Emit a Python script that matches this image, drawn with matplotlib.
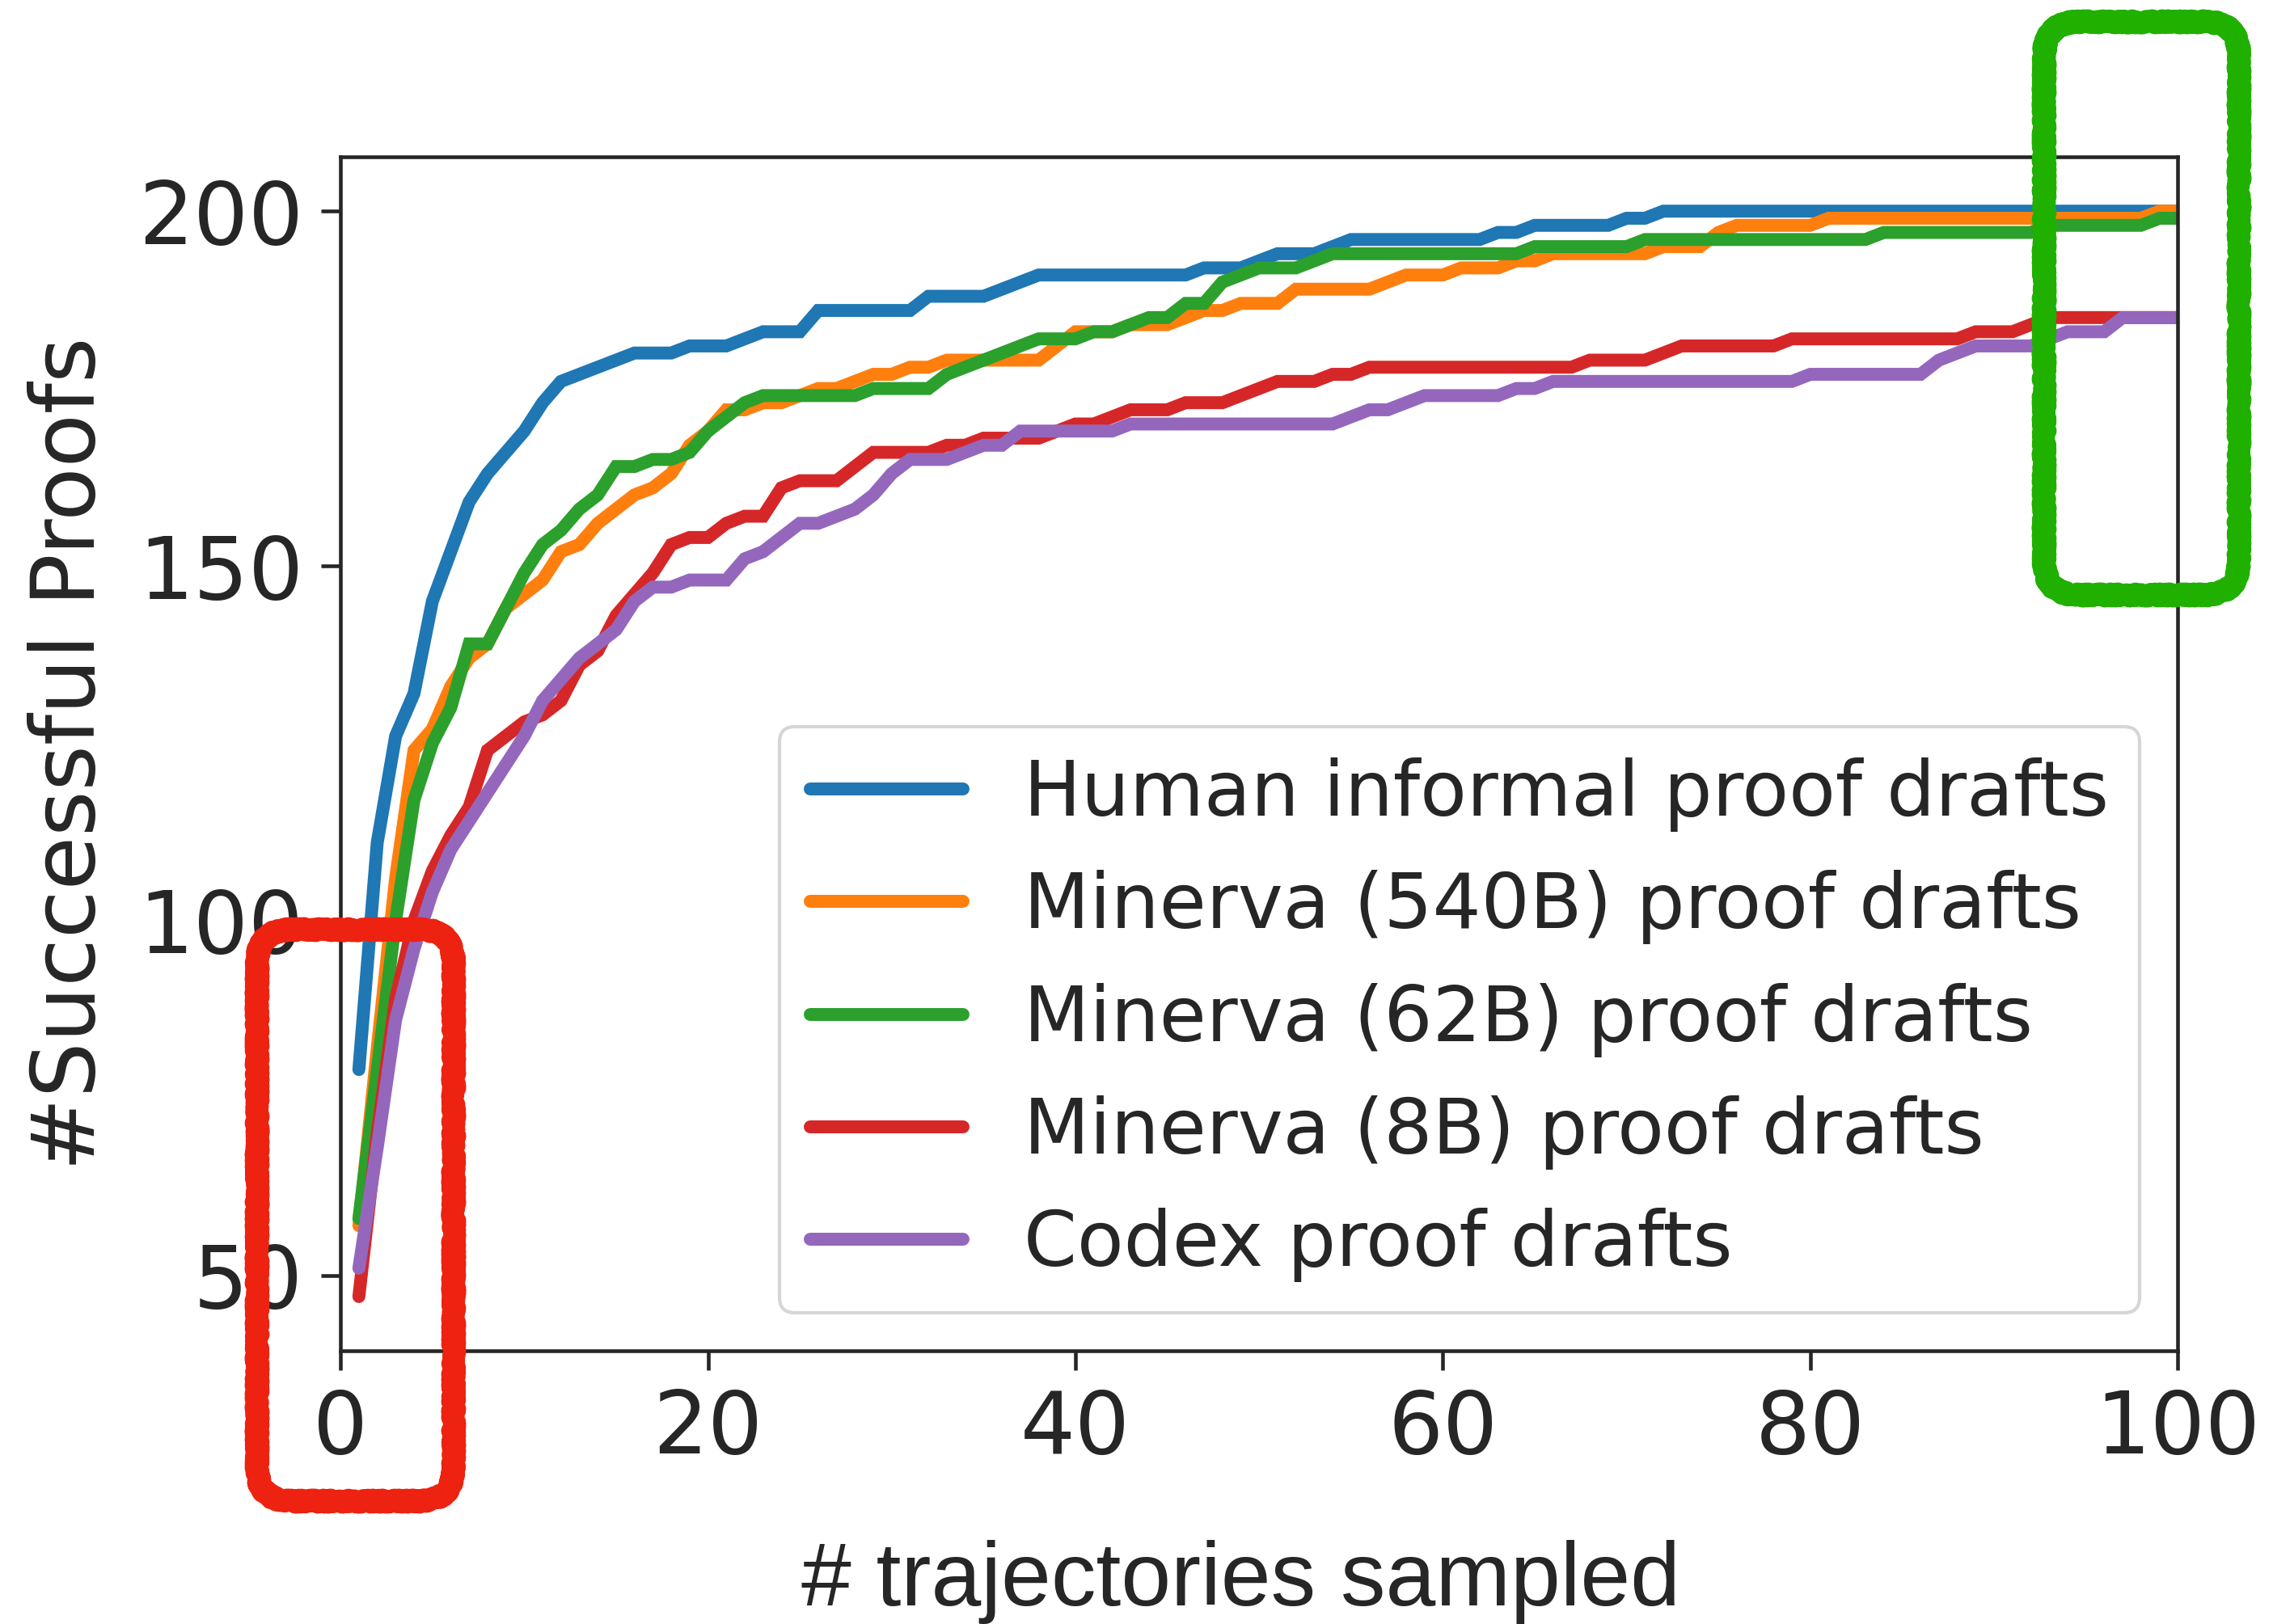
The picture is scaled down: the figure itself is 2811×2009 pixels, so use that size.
import matplotlib
matplotlib.use("Agg")
import matplotlib.pyplot as plt
from matplotlib.patches import FancyBboxPatch

# number of sampled trajectories
trajectories = list(range(1, 101))

human = [79, 111, 126, 132, 145, 152, 159, 163, 166, 169,
         173, 176, 177, 178, 179, 180, 180, 180, 181, 181,
         181, 182, 183, 183, 183, 186, 186, 186, 186, 186,
         186, 188, 188, 188, 188, 189, 190, 191, 191, 191,
         191, 191, 191, 191, 191, 191, 192, 192, 192, 193,
         194, 194, 194, 195, 196, 196, 196, 196, 196, 196,
         196, 196, 197, 197, 198, 198, 198, 198, 198, 199,
         199, 200, 200, 200, 200, 200, 200, 200, 200, 200,
         200, 200, 200, 200, 200, 200, 200, 200, 200, 200,
         200, 200, 200, 200, 200, 200, 200, 200, 200, 200]

minerva_540b = [57, 82, 106, 124, 127, 133, 137, 139, 144, 146,
                148, 152, 153, 156, 158, 160, 161, 163, 167, 169,
                172, 172, 173, 173, 174, 175, 175, 176, 177, 177,
                178, 178, 179, 179, 179, 179, 179, 179, 181, 183,
                183, 183, 184, 184, 184, 185, 186, 186, 187, 187,
                187, 189, 189, 189, 189, 189, 190, 191, 191, 191,
                192, 192, 192, 193, 193, 194, 194, 194, 194, 194,
                194, 195, 195, 195, 197, 198, 198, 198, 198, 198,
                199, 199, 199, 199, 199, 199, 199, 199, 199, 199,
                199, 199, 199, 199, 199, 199, 199, 199, 200, 200]

minerva_62b = [58, 79, 100, 117, 125, 130, 139, 139, 144, 149,
               153, 155, 158, 160, 164, 164, 165, 165, 166, 169,
               171, 173, 174, 174, 174, 174, 174, 174, 175, 175,
               175, 175, 177, 178, 179, 180, 181, 182, 182, 182,
               183, 183, 184, 185, 185, 187, 187, 190, 191, 192,
               192, 192, 193, 194, 194, 194, 194, 194, 194, 194,
               194, 194, 194, 194, 195, 195, 195, 195, 195, 195,
               196, 196, 196, 196, 196, 196, 196, 196, 196, 196,
               196, 196, 196, 197, 197, 197, 197, 197, 197, 197,
               197, 197, 198, 198, 198, 198, 198, 198, 199, 199]

minerva_8b = [47, 70, 89, 100, 107, 112, 116, 124, 126, 128,
              129, 131, 136, 138, 143, 146, 149, 153, 154, 154,
              156, 157, 157, 161, 162, 162, 162, 164, 166, 166,
              166, 166, 167, 167, 168, 168, 168, 168, 169, 170,
              170, 171, 172, 172, 172, 173, 173, 173, 174, 175,
              176, 176, 176, 177, 177, 178, 178, 178, 178, 178,
              178, 178, 178, 178, 178, 178, 178, 179, 179, 179,
              179, 180, 181, 181, 181, 181, 181, 181, 182, 182,
              182, 182, 182, 182, 182, 182, 182, 182, 183, 183,
              183, 184, 185, 185, 185, 185, 185, 185, 185, 185]

codex = [51, 68, 86, 96, 104, 110, 114, 118, 122, 126,
         131, 134, 137, 139, 141, 145, 147, 147, 148, 148,
         148, 151, 152, 154, 156, 156, 157, 158, 160, 163,
         165, 165, 165, 166, 167, 167, 169, 169, 169, 169,
         169, 169, 170, 170, 170, 170, 170, 170, 170, 170,
         170, 170, 170, 170, 171, 172, 172, 173, 174, 174,
         174, 174, 174, 175, 175, 176, 176, 176, 176, 176,
         176, 176, 176, 176, 176, 176, 176, 176, 176, 177,
         177, 177, 177, 177, 177, 177, 179, 180, 181, 181,
         181, 181, 182, 183, 183, 183, 185, 185, 185, 185]

series = [
    ("Human informal proof drafts", human, "#1f77b4"),
    ("Minerva (540B) proof drafts", minerva_540b, "#ff7f0e"),
    ("Minerva (62B) proof drafts", minerva_62b, "#2ca02c"),
    ("Minerva (8B) proof drafts", minerva_8b, "#d62728"),
    ("Codex proof drafts", codex, "#9467bd"),
]

x_ticks = [0, 20, 40, 60, 80, 100]
y_ticks = [50, 100, 150, 200]

ink = "#262626"
plt.rcParams.update({
    "font.family": ["DejaVu Sans"],
    "text.color": ink,
    "axes.labelcolor": ink,
    "xtick.color": ink,
    "ytick.color": ink,
    "axes.edgecolor": ink,
})

fig = plt.figure(figsize=(28.11, 20.09), dpi=100)
ax = fig.add_axes([0.1498, 0.1682, 0.8083, 0.7352])

for label, values, color in series:
    ax.plot(trajectories, values, color=color, lw=11.5,
            solid_capstyle="round", solid_joinstyle="miter", label=label)

ax.set_xlim(0, 100)
ax.set_xticks(x_ticks)
ax.set_yticks(y_ticks)
ax.tick_params(labelsize=77, length=17, width=3.3, pad=16)
for sp in ax.spines.values():
    sp.set_linewidth(3.3)

ax.set_ylabel("#Successful Proofs", fontsize=78, va="center")
ax.yaxis.set_label_coords(-0.147, 0.5)
ax.set_xlabel("# trajectories sampled", fontsize=80,
              family=["Liberation Sans", "DejaVu Sans"], va="baseline")
ax.xaxis.set_label_coords(0.490, -0.2133)

leg = ax.legend(loc="lower right", fontsize=68, framealpha=0.8,
                fancybox=True, handlelength=2.0, borderpad=0.4,
                labelspacing=0.5)
leg.get_frame().set_edgecolor("#cccccc")
leg.get_frame().set_linewidth(3.0)

# hand-drawn highlight frames, in inches on the canvas
def sketch_box(x0, y0, w, h, color):
    for lw, params in ((18, (3.0, 6.0, 12.0)), (12, (5.0, 4.0, 20.0))):
        box = FancyBboxPatch((x0, y0), w, h,
                             boxstyle="round,pad=0,rounding_size=0.42",
                             transform=fig.dpi_scale_trans, fill=False,
                             edgecolor=color, lw=lw, zorder=20,
                             joinstyle="round", capstyle="round")
        box.set_sketch_params(*params)
        fig.add_artist(box)

sketch_box(3.18, 1.52, 2.43, 7.07, "#ee2210")
sketch_box(25.28, 12.73, 2.41, 7.09, "#20b000")

fig.savefig("out.png", dpi=100, facecolor="white")
